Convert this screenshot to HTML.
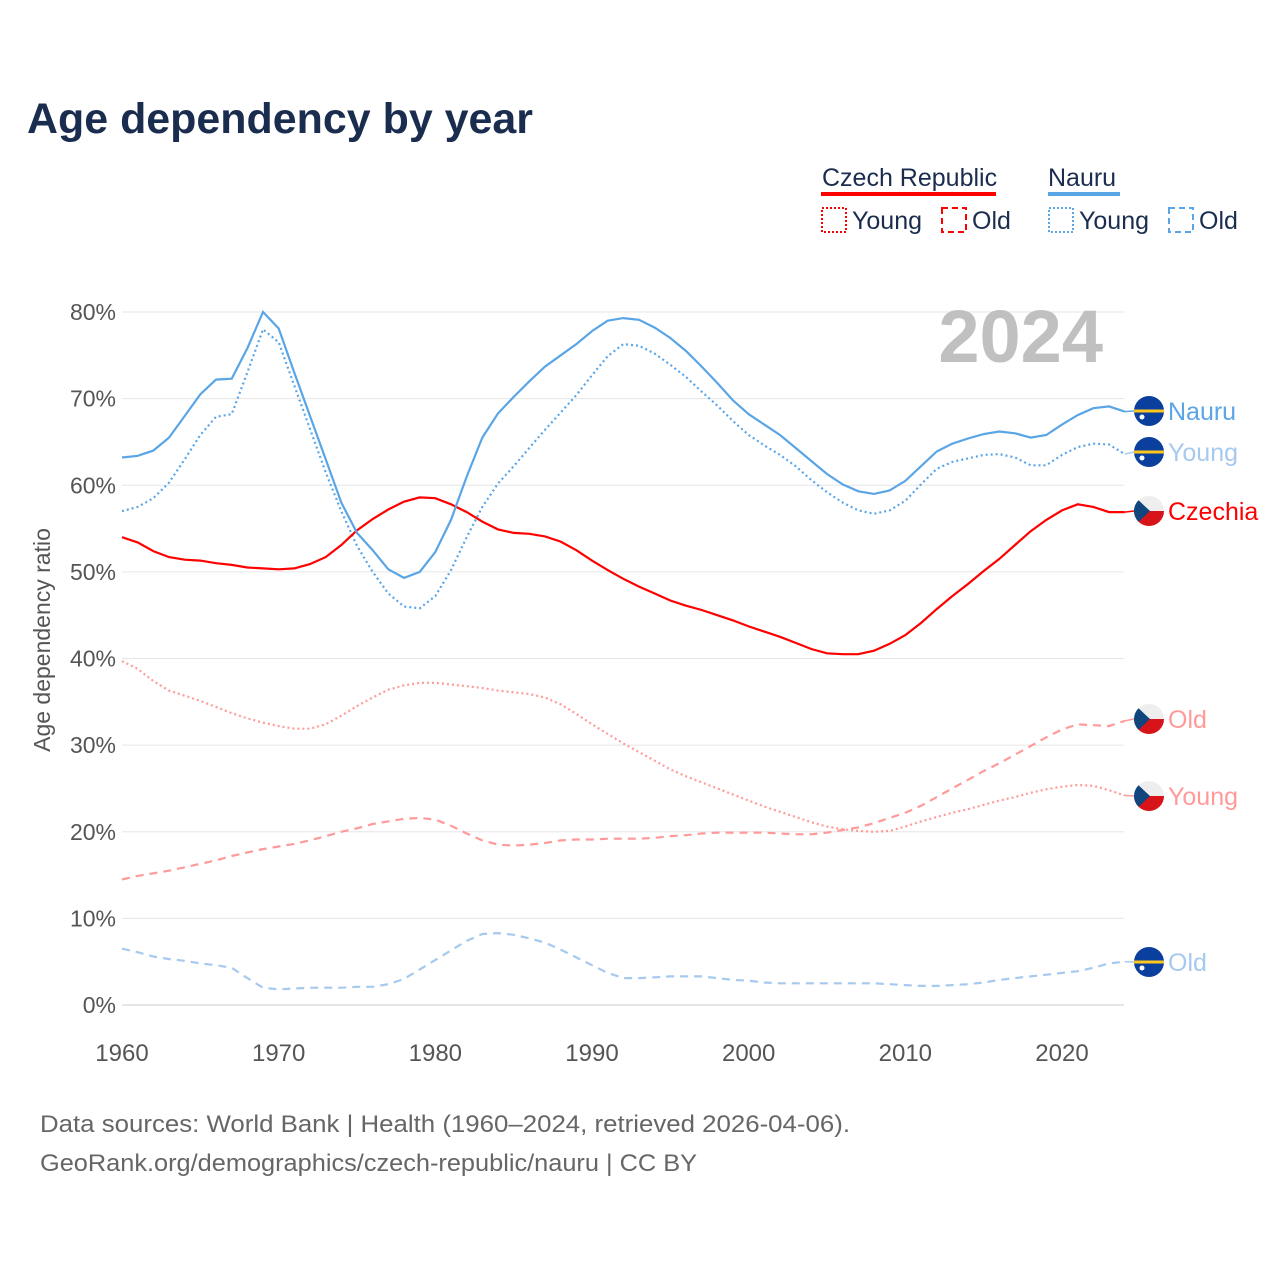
<!DOCTYPE html>
<html><head><meta charset="utf-8">
<style>
html,body{margin:0;padding:0;background:#fff;}
body{width:1280px;height:1280px;overflow:hidden;font-family:"Liberation Sans",sans-serif;}
</style></head>
<body>
<svg id="chart" width="1280" height="1280" xmlns="http://www.w3.org/2000/svg">
<defs>
<clipPath id="cc"><circle cx="0" cy="0" r="15"/></clipPath>
</defs>
<text x="27" y="133" font-size="43" font-weight="bold" fill="#1b2d4f" textLength="506" lengthAdjust="spacingAndGlyphs">Age dependency by year</text>
<g font-size="25" fill="#1b2d4f">
<text x="822" y="186">Czech Republic</text>
<rect x="821" y="192" width="175" height="4" fill="#ff0000"/>
<text x="1048" y="186">Nauru</text>
<rect x="1048" y="192" width="72" height="4" fill="#5aa5e6"/>
<rect x="822" y="208" width="24" height="24" fill="none" stroke="#ff0000" stroke-width="2" stroke-dasharray="2,2"/>
<text x="852" y="229">Young</text>
<rect x="942" y="208" width="24" height="24" fill="none" stroke="#ff0000" stroke-width="2" stroke-dasharray="6,4"/>
<text x="972" y="229">Old</text>
<rect x="1049" y="208" width="24" height="24" fill="none" stroke="#5aa5e6" stroke-width="2" stroke-dasharray="2,2"/>
<text x="1079" y="229">Young</text>
<rect x="1169" y="208" width="24" height="24" fill="none" stroke="#5aa5e6" stroke-width="2" stroke-dasharray="6,4"/>
<text x="1199" y="229">Old</text>
</g>
<g id="grid"></g>
<text x="1103" y="362" font-size="74" font-weight="bold" fill="#c0c0c0" text-anchor="end">2024</text>
<text transform="translate(50,640) rotate(-90)" font-size="23" fill="#555" text-anchor="middle">Age dependency ratio</text>
<g id="series"></g>
<g id="labels"></g>
<text x="40" y="1132" font-size="24" fill="#666" textLength="810" lengthAdjust="spacingAndGlyphs">Data sources: World Bank | Health (1960–2024, retrieved 2026-04-06).</text>
<text x="40" y="1171" font-size="24" fill="#666" textLength="657" lengthAdjust="spacingAndGlyphs">GeoRank.org/demographics/czech-republic/nauru | CC BY</text>
</svg>
<script>
const years = Array.from({length:65},(_,i)=>1960+i);
const yTicks = [0,10,20,30,40,50,60,70,80];
const xTicks = [1960,1970,1980,1990,2000,2010,2020];
const nauruTotal = [63.2,63.4,64,65.5,68,70.5,72.2,72.3,75.8,80,78.1,73,68,63,58,54.5,52.5,50.3,49.3,50,52.3,56,61,65.5,68.3,70.2,72,73.7,75,76.3,77.8,79,79.3,79.1,78.2,77,75.5,73.7,71.8,69.8,68.2,67,65.8,64.3,62.8,61.3,60.1,59.3,59,59.4,60.5,62.2,63.9,64.8,65.4,65.9,66.2,66,65.5,65.8,67,68.1,68.9,69.1,68.5];
const nauruYoung = [57,57.5,58.5,60.3,63,65.8,67.9,68.2,73,78,76.5,71.5,66.5,61.5,57,53,50,47.5,46,45.8,47.2,50.2,54,57.5,60.2,62.2,64.3,66.4,68.4,70.4,72.7,74.9,76.3,76.1,75.2,73.9,72.5,70.8,69.2,67.4,65.8,64.6,63.5,62.2,60.6,59.2,58,57.1,56.7,57.1,58.2,60.1,61.9,62.7,63.1,63.5,63.6,63.2,62.3,62.3,63.5,64.4,64.8,64.7,63.6];
const nauruOld = [6.5,6.1,5.6,5.3,5.1,4.8,4.6,4.3,3.1,2.0,1.8,1.9,2.0,2.0,2.0,2.1,2.1,2.4,3.0,4.1,5.2,6.3,7.4,8.2,8.3,8.1,7.7,7.2,6.4,5.5,4.6,3.7,3.1,3.1,3.2,3.3,3.3,3.3,3.1,2.9,2.8,2.6,2.5,2.5,2.5,2.5,2.5,2.5,2.5,2.4,2.3,2.2,2.2,2.3,2.4,2.6,2.9,3.1,3.3,3.5,3.7,3.9,4.3,4.8,5.0];
const czechTotal = [54,53.4,52.4,51.7,51.4,51.3,51,50.8,50.5,50.4,50.3,50.4,50.9,51.7,53.1,54.8,56.1,57.2,58.1,58.6,58.5,57.8,56.9,55.8,54.9,54.5,54.4,54.1,53.5,52.5,51.3,50.2,49.2,48.3,47.5,46.7,46.1,45.6,45,44.4,43.7,43.1,42.5,41.8,41.1,40.6,40.5,40.5,40.9,41.7,42.7,44.1,45.7,47.2,48.6,50.1,51.5,53.1,54.7,56,57.1,57.8,57.5,56.9,56.9];
const czechYoung = [39.7,38.8,37.4,36.3,35.7,35.1,34.4,33.7,33.1,32.6,32.2,31.9,31.9,32.4,33.4,34.5,35.5,36.4,36.9,37.2,37.2,37,36.8,36.6,36.3,36.1,35.9,35.5,34.7,33.6,32.4,31.3,30.2,29.2,28.2,27.2,26.4,25.7,25,24.3,23.6,22.9,22.3,21.7,21.1,20.6,20.3,20.1,20,20.1,20.6,21.2,21.7,22.2,22.6,23.1,23.6,24,24.5,24.9,25.2,25.4,25.3,24.8,24.2];
const czechOld = [14.5,14.9,15.2,15.5,15.9,16.3,16.7,17.2,17.6,18,18.3,18.6,19,19.5,20,20.4,20.9,21.2,21.5,21.6,21.4,20.7,19.8,19,18.5,18.4,18.5,18.7,19,19.1,19.1,19.2,19.2,19.2,19.3,19.5,19.6,19.8,19.9,19.9,19.9,19.9,19.8,19.7,19.7,19.9,20.2,20.5,21,21.6,22.2,23,24,25,26,27,27.9,28.9,29.9,30.9,31.8,32.4,32.3,32.2,32.8];

const NS='http://www.w3.org/2000/svg';
const X = y => 122 + (y-1960)*(940/60);
const Y = v => 1005 - v*(693/80);
function mk(tag, attrs, parent){const e=document.createElementNS(NS,tag);for(const k in attrs)e.setAttribute(k,attrs[k]);parent.appendChild(e);return e;}
const grid=document.getElementById('grid');
yTicks.forEach(t=>{
  const l=mk('line',{x1:122,x2:1124,y1:Y(t),y2:Y(t),stroke:t===0?'#ccc':'#e6e6e6','stroke-width':1},grid);
  
  
  const tx=mk('text',{x:116,y:Y(t)+8,'font-size':23,fill:'#555','text-anchor':'end'},grid);
  tx.textContent=t+'%';
  
  
});
xTicks.forEach(t=>{
  const tx=mk('text',{x:X(t),y:1061,'font-size':24,fill:'#555','text-anchor':'middle'},grid);
  tx.textContent=t;
  
  
});
const series=document.getElementById('series');
const defs=[
 [czechOld,'#ff9a9a','8,6','czech-old-line'],
 [czechYoung,'#ff9a9a','2,3','czech-young-line'],
 [nauruOld,'#a6c9ee','8,6','nauru-old-line'],
 [nauruYoung,'#5aa5e6','2,3','nauru-young-line'],
 [czechTotal,'#ff0000','','czech-total-line'],
 [nauruTotal,'#5aa5e6','','nauru-total-line']];
defs.forEach(([d,c,da,n])=>{
  const p=mk('path',{d:d.map((v,i)=>(i?'L':'M')+X(years[i]).toFixed(1)+','+Y(v).toFixed(1)).join(''),fill:'none',stroke:c,'stroke-width':2.2,'stroke-dasharray':da},series);
  
  
});
const labels=document.getElementById('labels');
function flag(cx,cy,kind,parent){
  const g=mk('g',{transform:`translate(${cx},${cy})`,'clip-path':'url(#cc)'},parent);
  if(kind==='nr'){
    mk('rect',{x:-15,y:-15,width:30,height:30,fill:'#0b3f9e'},g);
    mk('rect',{x:-15,y:-1.5,width:30,height:3,fill:'#ffc61e'},g);
    mk('circle',{cx:-7,cy:6,r:2.5,fill:'#fff'},g);
  } else {
    mk('rect',{x:-15,y:-15,width:30,height:15,fill:'#eee'},g);
    mk('rect',{x:-15,y:0,width:30,height:15,fill:'#d7141a'},g);
    mk('polygon',{points:'-15,-15 1,0 -15,15',fill:'#11457e'},g);
  }
  return g;
}
const ends=[
 [nauruTotal,411,'nr','Nauru','#5aa5e6','end-label-nauru'],
 [nauruYoung,452,'nr','Young','#a6c9ee','end-label-nauru-young'],
 [czechTotal,511,'cz','Czechia','#ff0000','end-label-czechia'],
 [czechOld,719,'cz','Old','#ff9a9a','end-label-czech-old'],
 [czechYoung,796,'cz','Young','#ff9a9a','end-label-czech-young'],
 [nauruOld,962,'nr','Old','#a6c9ee','end-label-nauru-old']];
ends.forEach(([d,ly,k,t,c,n])=>{
  const g=mk('g',{},labels);
  
  
  mk('line',{x1:X(2024),y1:Y(d[64]),x2:1134,y2:ly,stroke:c,'stroke-width':1.5},g);
  flag(1149,ly,k,g);
  const tx=mk('text',{x:1168,y:ly+9,'font-size':25,fill:c},g);
  tx.textContent=t;
});
</script>
</body></html>
